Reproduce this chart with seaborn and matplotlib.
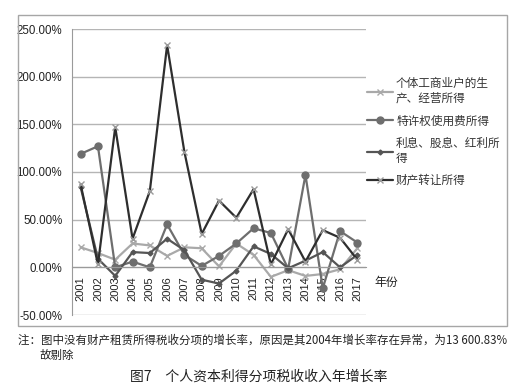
import pandas as pd
import matplotlib.pyplot as plt
import seaborn as sns
from matplotlib.patches import Rectangle
from matplotlib.ticker import FuncFormatter, FixedLocator

# Growth rates (%)
years = list(range(2001, 2018))
year_labels = [str(y) for y in years]
business_income = [21, 15, 8, 25, 23, 12, 21, 20, 1, 25, 13, -10, -3, -9, -7, -2, 20]
royalties = [119, 127, 0, 6, 0, 45, 13, 1.5, 12, 25, 41, 36, -1.5, 97, -22, 38, 26]
interest_dividends = [84, 9, -9, 16, 15, 30, 18, -13, -17, -3.5, 22, 14, -1, 7, 16, 0, 13]
property_transfer = [87, 3, 147, 30, 80, 233, 121, 35, 70, 52, 82, 3, 40, 6, 39, 31, 8]

series_names = ["个体工商业户的生\n产、经营所得", "特许权使用费所得",
                "利息、股息、红利所\n得", "财产转让所得"]
y_ticks = [-50, 0, 50, 100, 150, 200, 250]

sns.set_style("white")
plt.rcParams["font.family"] = ["Liberation Sans", "Noto Sans CJK SC", "DejaVu Sans"]
cjk = ["Noto Sans CJK SC", "DejaVu Sans"]

fig = plt.figure(figsize=(5.24, 3.90), dpi=100)
ax = fig.add_axes([72 / 524, 1 - 315 / 390, (366 - 72) / 524, (315 - 29) / 390])

# Series styles: colour, marker, marker size, marker edge colour
styles = [
    ("#a9a9a9", "x", 5, "#a9a9a9"),
    ("#6e6e6e", "o", 5, "#6e6e6e"),
    ("#555555", "D", 2.5, "#555555"),
    ("#2e2e2e", "x", 5, "#9a9a9a"),
]
for vals, name, (col, mk, ms, mec) in zip(
        [business_income, royalties, interest_dividends, property_transfer],
        series_names, styles):
    sns.lineplot(x=years, y=vals, color=col, marker=mk, markersize=ms,
                 markeredgecolor=mec, markeredgewidth=1, linewidth=1.6,
                 label=name, ax=ax)

# Axes styling (Excel look)
ax.set_xlim(2000.5, 2017.5)
ax.set_ylim(-50, 250)
ax.set_yticks(y_ticks)
ax.yaxis.set_major_formatter(FuncFormatter(lambda v, p: f"{v:.2f}%"))
ax.grid(axis="y", color="#b5b5b5", linewidth=1)
ax.set_axisbelow(True)
for s in ["top", "right"]:
    ax.spines[s].set_visible(False)
ax.spines["left"].set_color("#9a9a9a")
ax.spines["bottom"].set_color("#9a9a9a")
ax.spines["bottom"].set_position(("data", 0))
ax.tick_params(axis="y", length=4, color="#9a9a9a", labelsize=8.3, pad=3, labelcolor="#222222")

ax.set_xticks(years)
ax.set_xticklabels(year_labels, rotation=90)
ax.xaxis.set_minor_locator(FixedLocator([y + 0.5 for y in [2000] + years]))
ax.tick_params(axis="x", which="major", length=0, labelsize=8, pad=6.5, labelcolor="#222222")
ax.tick_params(axis="x", which="minor", length=4, color="#9a9a9a", direction="out")
ax.set_xlabel("")
ax.set_ylabel("")

ax.text(1.03, 0.115, "年份", transform=ax.transAxes, ha="left", va="center",
        fontsize=8.6, family=cjk, color="#222222")

leg = ax.legend(loc="upper left", bbox_to_anchor=(1.005, 0.832), frameon=False,
                prop={"family": cjk, "size": 8.4}, handlelength=2.2,
                handletextpad=0.25, labelspacing=0.8, borderpad=0, borderaxespad=0)
for t in leg.get_texts():
    t.set_color("#333333")

# Chart area frame
fig.add_artist(Rectangle((18 / 524, 1 - 326 / 390), (507 - 18) / 524, (326 - 15) / 390,
                         transform=fig.transFigure, fill=False,
                         edgecolor="#a6a6a6", linewidth=1))

fig.text(18 / 524, 1 - 340 / 390,
         "注：图中没有财产租赁所得税收分项的增长率，原因是其2004年增长率存在异常，为13 600.83%",
         ha="left", va="center", fontsize=8.25, family=cjk, color="#222222")
fig.text(40 / 524, 1 - 355 / 390, "故剔除", ha="left", va="center",
         fontsize=8.25, family=cjk, color="#222222")
fig.text(259 / 524, 1 - 377 / 390, "图7　个人资本利得分项税收收入年增长率",
         ha="center", va="center", fontsize=10, family=cjk, color="#222222")

fig.savefig("out.png", dpi=100)
